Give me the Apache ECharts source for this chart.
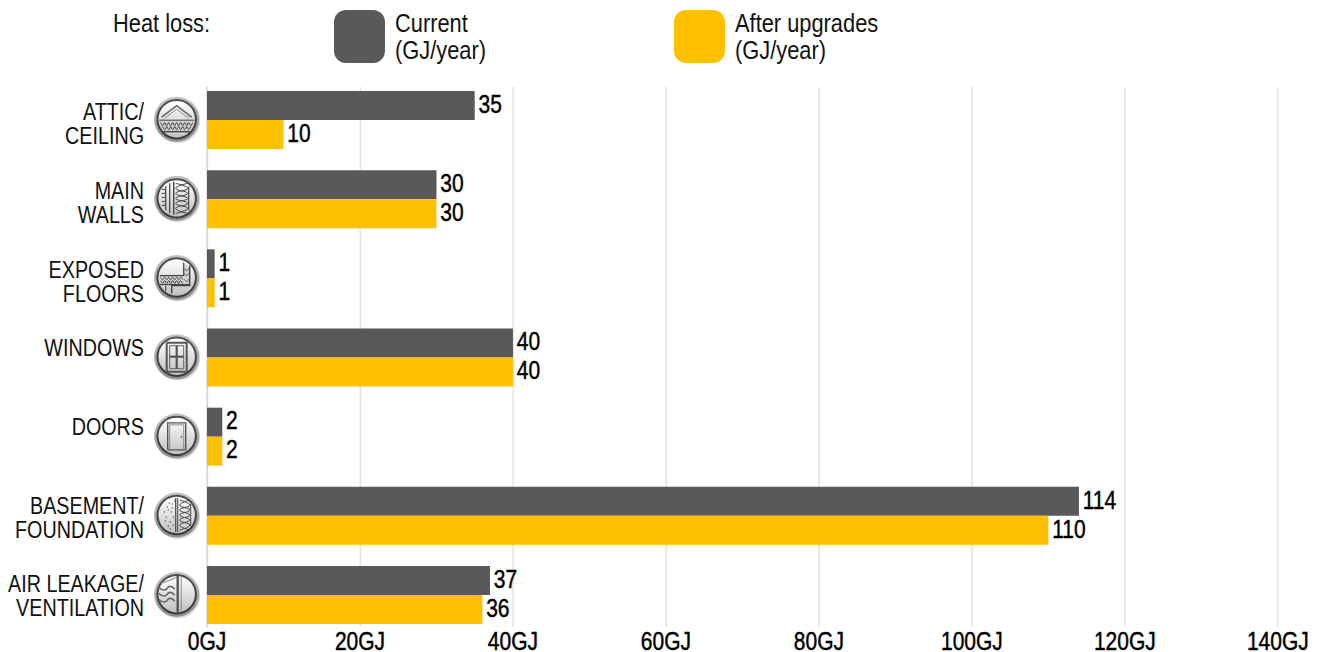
<!DOCTYPE html>
<html><head><meta charset="utf-8">
<style>html,body{margin:0;padding:0;background:#fff;overflow:hidden;width:1324px;height:652px}
#c{width:1576.19px;height:652px;transform:scaleX(0.84);transform-origin:0 0}</style>
<script src="https://cdn.jsdelivr.net/npm/echarts@6/dist/echarts.min.js"></script>
</head><body><div id="c"></div>
<script>
const categories = ['ATTIC/\nCEILING','MAIN\nWALLS','EXPOSED\nFLOORS','WINDOWS','DOORS','BASEMENT/\nFOUNDATION','AIR LEAKAGE/\nVENTILATION'];
const iconKinds = ['attic','walls','floors','windows','doors','basement','air'];
const currentValues = [35,30,1,40,2,114,37];
const afterValues = [10,30,1,40,2,110,36];
const tickStep = 20;
const axisMax = 140;
const S = 0.84; // the page squeezes text horizontally, standing in for a narrow face
const FONT = '"Liberation Sans",Arial,sans-serif';
const DARK = '#595959', GOLD = '#FFC000', INK = '#111';

function iconArt(kind){
  const out=[];
  const L=(p,w,c,smooth)=>out.push({type:'polyline',shape:{points:p,smooth:smooth||0},style:{stroke:c||'#444',lineWidth:w||1.2,fill:null}});
  const wave=(x0,x1,y,a,st)=>{const p=[];let k=0;for(let x=x0;x<=x1;x+=st){p.push([x,y+(k%2?a:-a)]);k++;}L(p,1,'#444',0.5);};
  const coil=(x0,x1,y0,y1,st)=>{const p=[];let k=0;for(let y=y0;y<=y1;y+=st){p.push([k%2?x1:x0,y]);k++;}L(p,1,'#444',0.5);};
  if(kind==='attic'){
    out.push({type:'polygon',shape:{points:[[-17,1],[17,1],[14,11],[7,15],[-7,15],[-14,11]]},style:{fill:'#d0d0d0'}});
    L([[-15,-2],[0,-13.5],[15,-2]],1.6,'#666');L([[-12,-1],[0,-10],[12,-1]],1,'#888');
    L([[-17.5,1],[17.5,1]],1,'#444');wave(-16,16,5,1.6,2);wave(-14,14,9,1.6,2);L([[-15,12.5],[15,12.5]],1.4,'#444');
  } else if(kind==='walls'){
    L([[-11,-12],[-11,12]],1.2);L([[-7,-15],[-7,15]],1.2);L([[-3,-16.5],[-3,16.5]],1.4);L([[12,-12],[12,12]],1.2);
    [-9,-5,-1,3,7].forEach(y=>L([[-15,y],[-11,y]],1));coil(-1,11,-15,15,5);coil(11,-1,-15,15,5);
  } else if(kind==='floors'){
    out.push({type:'polygon',shape:{points:[[-17,-2],[7,-2],[7,-14],[13,-11],[13,7],[-17,7]]},style:{fill:'#d6d6d6'}});
    L([[-17,-2],[7,-2],[7,-15]],1.2);L([[13,-12],[13,8],[-5,8],[-5,16]],1.4);
    wave(-16,6,1,1.4,2);wave(-16,6,4.5,1.4,2);L([[-17,7],[13,7]],1.2);wave(8,12,-8,1.2,2);wave(8,12,-3,1.2,2);wave(8,12,3,1.2,2);L([[-11,8],[-11,14]],1);
  } else if(kind==='windows'){
    L([[-10,-14],[10,-14],[10,15],[-10,15],[-10,-14]],2,'#555');L([[-7,-11],[7,-11],[7,12],[-7,12],[-7,-11]],1,'#666');
    L([[0,-11],[0,12]],2.2,'#555');L([[-7,0],[7,0]],2.2,'#555');
  } else if(kind==='doors'){
    L([[-9,14],[-9,-13],[9,-13],[9,14],[-9,14]],1.4,'#555');L([[-7,14],[-7,-11],[7,-11],[7,14]],0.8,'#777');L([[4,1],[5.4,1]],1.4,'#333');
  } else if(kind==='basement'){
    L([[-1,-17],[-1,17]],1.2);L([[1,-17],[1,17]],1);L([[14,-11],[14,11]],1);
    [[-10,-8],[-6,-3],[-11,2],[-7,7],[-4,10],[-13,-3],[-5,-11],[-9,11],[-4,2],[-8,-12],[-9,-5],[-12,6],[-5,-7],[-3,-14],[-7,14]].forEach(d=>L([d,[d[0]+1.2,d[1]]],1.1,'#333'));
    coil(3,13,-15,15,5);coil(13,3,-15,15,5);
  } else {
    L([[1,-19],[1,19]],2.4,'#555');L([[4.5,-17],[4.5,17]],0.8,'#777');
    [-6,0,6].forEach(y=>L([[-18,y-1],[-12,y+1.8],[-7,y-1.8],[-2,y+1]],1.6,'#666',0.6));
    L([[-16,-11],[-7,-14],[0,-17]],1,'#777',0.4);
  }
  return out;
}
function renderIcon(params,api){
  const p=api.coord([0,api.value(0)]);
  const grad=(a,b)=>({type:'linear',x:0,y:0,x2:0,y2:1,colorStops:[{offset:0,color:a},{offset:1,color:b}]});
  return {type:'group',silent:true,x:p[0]-30.3/S,y:p[1]-0.8,scaleX:1/S,children:[
    {type:'circle',shape:{cx:1,cy:1.5,r:22.5},style:{fill:'#dcdcdc'}},
    {type:'circle',shape:{cx:0,cy:0,r:22.5},style:{fill:grad('#c4c4c4','#8c8c8c')}},
    {type:'circle',shape:{cx:0,cy:0,r:20.2},style:{fill:grad('#505050','#3a3a3a')}},
    {type:'circle',shape:{cx:0,cy:0,r:18.2},style:{fill:grad('#ffffff','#c0c0c0')}},
    ...iconArt(iconKinds[api.value(0)])
  ]};
}
const legendText=(x,t)=>({type:'text',x:x/S,y:9,style:{text:t,font:'26px '+FONT,fill:INK,lineHeight:27}});
const legendSwatch=(x,c)=>({type:'rect',x:x/S,y:10,scaleX:1/S,shape:{width:51,height:53,r:12},style:{fill:c}});
const valueLabel={show:true,position:'right',distance:3.5,offset:[1,-1.5],color:'#000',fontFamily:FONT,fontSize:25,lineHeight:24,textBorderColor:'#000',textBorderWidth:0.45};
const chart=echarts.init(document.getElementById('c'),null,{renderer:'svg'});
chart.setOption({
  animation:false,
  backgroundColor:'#fff',
  grid:[
    {left:207/S,right:46/S,top:80.4,height:554.2,outerBoundsMode:'none',containLabel:false},
    {left:207/S,right:46/S,top:87,height:540,outerBoundsMode:'none',containLabel:false},
    {left:207/S,right:46/S,top:84.6,height:551,outerBoundsMode:'none',containLabel:false}
  ],
  xAxis:[
    {type:'value',gridIndex:0,min:0,max:axisMax,interval:tickStep,show:false},
    {type:'value',gridIndex:1,min:0,max:axisMax,interval:tickStep,
     axisLine:{show:false},axisTick:{show:false},
     splitLine:{lineStyle:{color:'#e4e4e4',width:2}},
     axisLabel:{formatter:v=>v+'GJ',color:'#000',fontFamily:FONT,fontSize:25,lineHeight:20,margin:4,textBorderColor:'#000',textBorderWidth:0.45}},
    {type:'value',gridIndex:2,min:0,max:axisMax,interval:tickStep,show:false}
  ],
  yAxis:[
    {type:'category',gridIndex:0,inverse:true,data:categories,show:false},
    {type:'category',gridIndex:1,data:[''],axisTick:{show:false},axisLabel:{show:false},
     axisLine:{show:true,lineStyle:{color:'#cfcfcf',width:1.2}}},
    {type:'category',gridIndex:2,inverse:true,data:categories,
     axisLine:{show:false},axisTick:{show:false},
     axisLabel:{color:INK,fontFamily:FONT,fontSize:23.5,lineHeight:24,align:'right',margin:63/S,
       formatter:v=>v.includes('\n')?v:v+'\n '}}
  ],
  series:[
    {name:'Current',type:'bar',xAxisIndex:0,yAxisIndex:0,data:currentValues,barWidth:29,barGap:'0%',itemStyle:{color:DARK},label:valueLabel},
    {name:'After upgrades',type:'bar',xAxisIndex:0,yAxisIndex:0,data:afterValues,barWidth:29,itemStyle:{color:GOLD},label:valueLabel},
    {type:'custom',xAxisIndex:0,yAxisIndex:0,silent:true,clip:false,data:categories.map((c,i)=>[i]),encode:{y:0},renderItem:renderIcon,z:5}
  ],
  graphic:[
    legendText(113,'Heat loss:'),
    legendSwatch(334,DARK),
    legendText(395,'Current\n(GJ/year)'),
    legendSwatch(674,GOLD),
    legendText(735,'After upgrades\n(GJ/year)')
  ]
});
</script></body></html>
